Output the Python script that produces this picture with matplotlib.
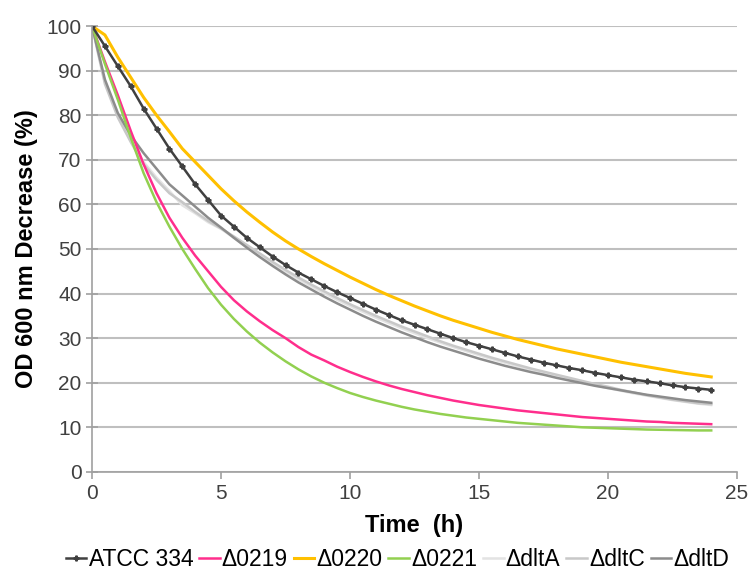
import numpy as np
import matplotlib.pyplot as plt

plt.rcParams['font.family'] = ['Liberation Sans', 'DejaVu Sans']

# time points (h), every 0.5 h
time_h = np.arange(0, 24.5, 0.5)

atcc334 = [100, 95.5, 91, 86.5, 81.5, 77, 72.5, 68.5, 64.5, 61, 57.5, 55, 52.5, 50.4,
           48.3, 46.4, 44.7, 43.2, 41.7, 40.3, 39, 37.7, 36.4, 35.2, 34, 33, 32, 31,
           30, 29.1, 28.3, 27.5, 26.7, 25.9, 25.2, 24.5, 23.9, 23.3, 22.8, 22.2, 21.7,
           21.2, 20.7, 20.3, 19.9, 19.4, 19.0, 18.7, 18.4]
d0219 = [100, 92, 84.5, 76.5, 69, 62.5, 57, 52.5, 48.5, 45, 41.5, 38.5, 36, 33.8,
         31.8, 30, 28, 26.3, 25, 23.6, 22.4, 21.3, 20.3, 19.4, 18.6, 17.9, 17.2, 16.6,
         16, 15.5, 15, 14.6, 14.2, 13.8, 13.5, 13.2, 12.9, 12.6, 12.3, 12.1, 11.9,
         11.7, 11.5, 11.3, 11.2, 11.0, 10.9, 10.8, 10.7]
d0220 = [100, 98, 93, 88.5, 84, 80, 76.3, 72.5, 69.5, 66.5, 63.5, 60.8, 58.3, 56,
         53.8, 51.8, 50, 48.3, 46.7, 45.2, 43.7, 42.3, 40.9, 39.6, 38.4, 37.2, 36.1,
         35, 34, 33.1, 32.2, 31.3, 30.5, 29.7, 29, 28.3, 27.6, 27, 26.4, 25.8, 25.2,
         24.6, 24.1, 23.6, 23.1, 22.6, 22.1, 21.7, 21.3]
d0221 = [100, 91.5, 83.5, 75, 67, 60.5, 55, 50, 45.5, 41.2, 37.5, 34.3, 31.5, 29,
         26.8, 24.8, 23, 21.4, 20, 18.8, 17.7, 16.8, 16, 15.3, 14.6, 14, 13.5, 13,
         12.6, 12.2, 11.9, 11.6, 11.3, 11.0, 10.8, 10.6, 10.4, 10.2, 10.0, 9.9, 9.8,
         9.7, 9.6, 9.5, 9.45, 9.4, 9.35, 9.3, 9.3]
dltA = [100, 87.5, 80, 74.5, 69.5, 66, 63, 59.8, 58, 56, 54.5, 52.5, 50.5, 48.6,
        46.7, 44.9, 43.2, 41.6, 40.1, 38.6, 37.2, 35.9, 34.6, 33.4, 32.2, 31.1, 30,
        29, 28, 27.1, 26.2, 25.3, 24.5, 23.7, 22.9, 22.2, 21.5, 20.8, 20.1, 19.4,
        18.8, 18.2, 17.6, 17.1, 16.6, 16.1, 15.7, 15.3, 15.0]
dltC = [100, 87, 79.5, 74, 69, 65.5, 62.5, 60.5, 58.3, 56.3, 54.6, 52.8, 50.9, 49,
        47.1, 45.3, 43.6, 42, 40.5, 39.0, 37.6, 36.3, 35, 33.8, 32.6, 31.5, 30.4,
        29.3, 28.3, 27.4, 26.5, 25.6, 24.8, 24, 23.2, 22.5, 21.8, 21.1, 20.4, 19.7,
        19.1, 18.4, 17.8, 17.2, 16.7, 16.2, 15.8, 15.4, 15.2]
dltD = [100, 88, 80.5, 75.5, 71.5, 68, 64.5, 62, 59.5, 57, 54.8, 52.5, 50.3, 48.2,
        46.2, 44.3, 42.5, 40.9, 39.3, 37.8, 36.4, 35, 33.7, 32.5, 31.3, 30.2, 29.1,
        28.1, 27.2, 26.3, 25.4, 24.6, 23.8, 23.1, 22.4, 21.8, 21.1, 20.5, 19.9, 19.3,
        18.8, 18.3, 17.8, 17.3, 16.9, 16.5, 16.1, 15.8, 15.5]

fig = plt.figure(figsize=(7.5, 5.79), dpi=100)
ax = fig.add_axes([0.1227, 0.185, 0.86, 0.77])

ax.plot(time_h, dltA, color='#E3E3E3', lw=1.8, label='\u0394dltA')
ax.plot(time_h, dltC, color='#C8C8C8', lw=1.8, label='\u0394dltC')
ax.plot(time_h, dltD, color='#8C8C8C', lw=1.8, label='\u0394dltD')
ax.plot(time_h, d0219, color='#FF2E8C', lw=1.8, label='\u03940219')
ax.plot(time_h, d0221, color='#92D050', lw=1.8, label='\u03940221')
ax.plot(time_h, d0220, color='#FFC000', lw=2.2, label='\u03940220')
ax.plot(time_h, atcc334, color='#404040', lw=1.8, marker='P', ms=3.5,
        label='ATCC 334')

ax.set_xlim(0, 25)
ax.set_ylim(0, 100)
ax.set_xticks(range(0, 26, 5))
ax.set_yticks(range(0, 101, 10))
ax.grid(axis='y', color='#BFBFBF', lw=1.5)
ax.set_axisbelow(True)
for s in ['top', 'right']:
    ax.spines[s].set_visible(False)
for s in ['left', 'bottom']:
    ax.spines[s].set_color('#A0A0A0')
    ax.spines[s].set_linewidth(1.2)
ax.tick_params(axis='both', colors='#A0A0A0', labelcolor='#404040',
               labelsize=15, length=5, width=1.2)
ax.tick_params(axis='y', direction='inout', length=8)

ax.set_xlabel('Time  (h)', fontsize=17, fontweight='bold', labelpad=8)
ax.set_ylabel('OD 600 nm Decrease (%)', fontsize=17, fontweight='bold',
              labelpad=6)

h, l = ax.get_legend_handles_labels()
order = ['ATCC 334', '\u03940219', '\u03940220', '\u03940221',
         '\u0394dltA', '\u0394dltC', '\u0394dltD']
hd = dict(zip(l, h))
fig.legend([hd[k] for k in order], order, loc='center', ncol=7,
           bbox_to_anchor=(0.53, 0.033), frameon=False, fontsize=16.5,
           handlelength=0.9, handletextpad=0.1, columnspacing=0.25)

fig.savefig('out.png')
